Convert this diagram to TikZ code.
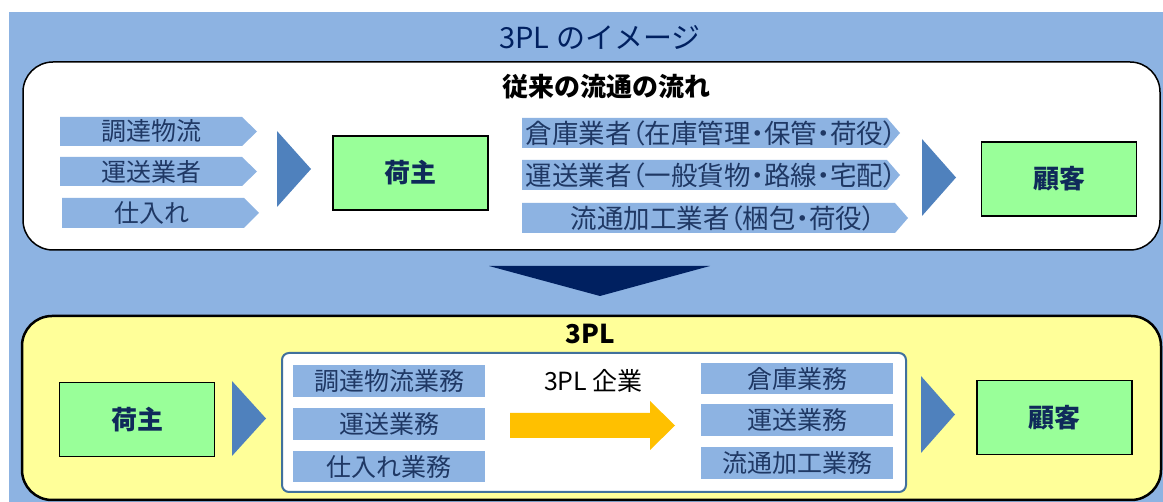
\documentclass[tikz,border=0pt]{standalone}
\usepackage{fontspec}
\setmainfont{Noto Sans CJK JP}
\newfontfamily\paltfont[RawFeature=+palt]{Noto Sans CJK JP}
\definecolor{bgblue}{HTML}{8DB3E2}
\definecolor{chevblue}{HTML}{8DB3E2}
\definecolor{triblue}{HTML}{4F81BD}
\definecolor{darknavy}{HTML}{002060}
\definecolor{navytext}{HTML}{1F3864}
\definecolor{boldnavy}{HTML}{0F2A5A}
\definecolor{lightgreen}{HTML}{99FF99}
\definecolor{lightyellow}{HTML}{FFFF99}
\definecolor{innerborder}{HTML}{41719C}
\definecolor{gold}{HTML}{FFC000}
\tikzset{
  chevtext/.style={font=\fontsize{25}{25}\selectfont, text=navytext, inner sep=0pt},
  widetext/.style={font=\paltfont\fontsize{26.5}{27}\selectfont, text=navytext, inner sep=0pt},
  greenbox/.style={draw=black, line width=1.3pt, fill=lightgreen, minimum width=155pt, minimum height=74pt,
    font=\fontsize{26}{26}\selectfont\bfseries, text=boldnavy, inner sep=0pt},
  headtext/.style={font=\fontsize{26}{26}\selectfont\bfseries, text=black, inner sep=0pt},
  chevfill/.style={fill=chevblue},
  tri/.style={fill=triblue},
}
\newcommand{\mychev}[5]{% x1 y1 x2 y2 depth
  \fill[chevfill] (#1,#2) -- ({#3-#5},#2) -- (#3,{(#2+#4)/2}) -- ({#3-#5},#4) -- (#1,#4) -- cycle;}
\begin{document}
\begin{tikzpicture}[x=1pt,y=-1pt]
\useasboundingbox (0,0) rectangle (1163,502);
\fill[white] (0,0) rectangle (1163,502);
\fill[bgblue] (9,12) rectangle (1163,502);
\node[font=\fontsize{29}{29}\selectfont, text=darknavy, inner sep=0pt] (title) at (600,37) {3PL のイメージ};

% upper panel
\draw[fill=white, line width=1.5pt, rounded corners=30pt] (23,62) rectangle (1160,250);
\node[headtext] (flowhead) at (606,87) {従来の流通の流れ};

\mychev{60}{117}{257}{146}{15}
\node[chevtext] (l1) at (151,131.5) {調達物流};
\mychev{60}{157}{257}{186}{15}
\node[chevtext] (l2) at (151.5,171.5) {運送業者};
\mychev{62}{198}{259}{228}{15}
\node[chevtext] (l3) at (152,213) {仕入れ};

\fill[tri] (277,131) -- (311,169) -- (277,207) -- cycle;
\node[greenbox] (ninushi1) at (410.5,173) {荷主};

\mychev{522}{118}{900}{148}{13}
\node[widetext] (r1) at (711,133) {倉庫業者（在庫管理・保管・荷役）};
\mychev{522}{160}{900}{190}{13}
\node[widetext] (r2) at (711,175) {運送業者（一般貨物・路線・宅配）};
\mychev{522}{203}{908}{233}{13}
\node[widetext] (r3) at (723,218) {流通加工業者（梱包・荷役）};

\fill[tri] (922,139) -- (956,177.5) -- (922,216) -- cycle;
\node[greenbox] (kokyaku1) at (1059,179) {顧客};

% down arrow
\fill[darknavy] (489,266) -- (710,266) -- (600,296) -- cycle;

% lower panel
\draw[fill=lightyellow, line width=2.5pt, rounded corners=30pt] (22,316) rectangle (1161,500);
\node[headtext] (plhead) at (590,334) {3PL};

\node[greenbox] (ninushi2) at (137,419.5) {荷主};
\fill[tri] (232,381) -- (266,418.5) -- (232,456) -- cycle;

\draw[fill=white, draw=innerborder, line width=2pt, rounded corners=7pt] (282,353) rectangle (906,492);

\fill[chevfill] (293,365) rectangle (485,397);
\node[chevtext] (b1) at (389,381) {調達物流業務};
\fill[chevfill] (293,408) rectangle (485,440);
\node[chevtext] (b2) at (389,424) {運送業務};
\fill[chevfill] (293,451) rectangle (485,482);
\node[chevtext] (b3) at (389,466.5) {仕入れ業務};

\node[font=\fontsize{25}{25}\selectfont, text=black, inner sep=0pt] (company) at (593.5,381) {3PL 企業};
\fill[gold] (510,413) -- (650,413) -- (650,401) -- (675,425.5) -- (650,450) -- (650,438) -- (510,438) -- cycle;

\fill[chevfill] (701,363) rectangle (893,394);
\node[chevtext] (s1) at (797,378.5) {倉庫業務};
\fill[chevfill] (701,404) rectangle (893,436);
\node[chevtext] (s2) at (797,420) {運送業務};
\fill[chevfill] (701,447) rectangle (893,479);
\node[chevtext] (s3) at (797,463) {流通加工業務};

\fill[tri] (921,376) -- (955,414.5) -- (921,453) -- cycle;
\node[greenbox] (kokyaku2) at (1054.5,417.5) {顧客};
\end{tikzpicture}
\end{document}
